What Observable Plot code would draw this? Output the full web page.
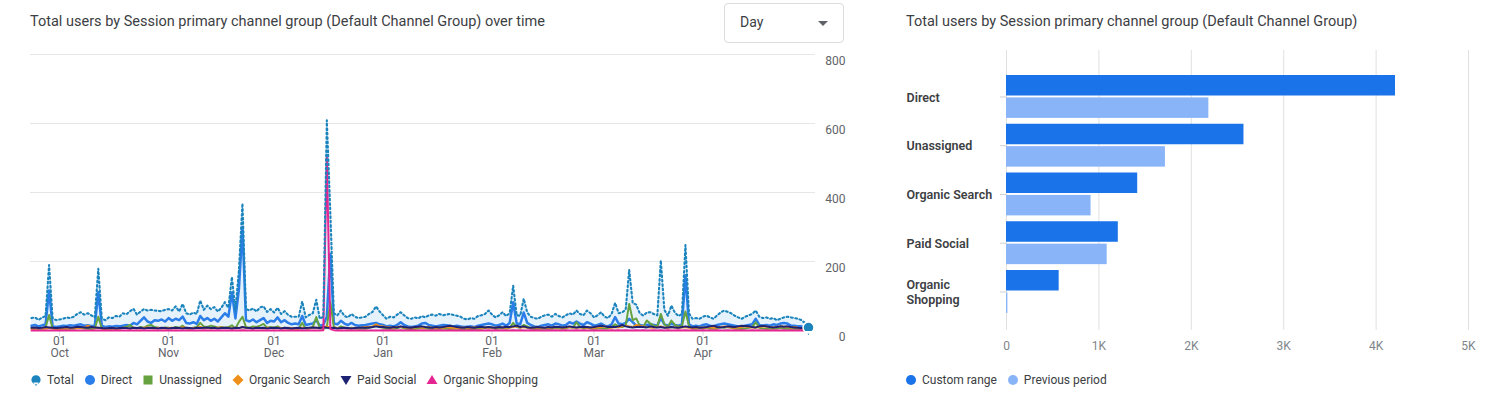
<!DOCTYPE html>
<html>
<head>
<meta charset="utf-8">
<script src="https://cdn.jsdelivr.net/npm/d3@7"></script>
<script src="https://cdn.jsdelivr.net/npm/@observablehq/plot@0.6"></script>
<style>
  html, body { margin: 0; padding: 0; background: #fff; }
  body { width: 1493px; height: 403px; position: relative; overflow: hidden; font-family: Roboto, "Noto Sans", sans-serif; color: #3c4043; }
  .title { position: absolute; top: 13px; font-size: 14.5px; line-height: 18px; color: #3c4043; z-index: 3; white-space: nowrap; }
  .dropdown { position: absolute; left: 724px; top: 3px; width: 120px; height: 40px; box-sizing: border-box; border: 1px solid #dadce0; border-radius: 4px; z-index: 3; background: #fff; }
  .dropdown .lbl { position: absolute; left: 15px; top: 10px; font-size: 14px; line-height: 17px; color: #3c4043; }
  .dropdown .arr { position: absolute; right: 15px; top: 17px; width: 0; height: 0; border-left: 5px solid transparent; border-right: 5px solid transparent; border-top: 5px solid #5f6368; }
  .chart { position: absolute; top: 0; z-index: 1; }
  .legend { position: absolute; top: 372px; display: flex; align-items: center; gap: 10px; font-size: 12px; line-height: 16px; color: #3c4043; z-index: 3; white-space: nowrap; }
  .legend .item { display: flex; align-items: center; gap: 5px; }
  .legend svg { display: block; }
</style>
</head>
<body>
<div class="title" style="left:30px">Total users by Session primary channel group (Default Channel Group) over time</div>
<div class="dropdown"><span class="lbl">Day</span><span class="arr"></span></div>
<div class="title" style="left:906px">Total users by Session primary channel group (Default Channel Group)</div>
<div id="lineChart" class="chart" style="left:0px"></div>
<div id="barChart" class="chart" style="left:880px"></div>
<div id="lineLegend" class="legend" style="left:30px"></div>
<div id="barLegend" class="legend" style="left:905px"></div>
<script>
// ---------- Time series data: one value per day, from 2023-09-23 to 2024-05-01 ----------
const firstDay = "2023-09-23";

const totalUsers = [
  36,38,31,37,42,190,36,30,
  32,34,38,36,40,48,53,46,50,44,38,179,34,30,38,36,42,40,50,47,56,63,46,55,62,58,60,58,57,56,60,
  62,58,70,55,77,50,46,52,48,87,60,72,62,68,55,66,82,66,155,58,175,368,62,58,64,55,67,70,54,62,
  52,66,48,56,45,40,40,40,84,38,45,50,89,34,40,609,340,50,44,58,42,38,48,40,36,38,40,48,54,70,55,
  44,34,40,38,46,53,44,36,34,38,35,42,38,44,46,43,48,44,46,48,45,43,40,34,32,36,34,42,44,48,58,
  46,38,44,53,42,50,130,44,43,92,52,40,36,34,40,44,46,40,48,42,38,44,50,46,58,48,44,58,50,
  38,44,53,40,36,48,80,50,53,60,176,80,75,50,43,52,53,48,44,203,60,43,72,52,42,48,248,50,34,36,34,
  40,43,38,34,44,52,58,54,50,43,38,34,40,44,48,58,40,36,38,34,36,30,34,38,40,38,36,34,30,22,
  3
];

const directUsers = [
  14,16,12,15,18,116,12,10,
  12,14,13,15,14,16,18,14,15,13,14,111,14,10,12,11,13,12,14,16,14,22,18,28,38,26,22,30,28,32,26,
  36,28,34,30,40,22,20,24,19,42,30,36,28,34,26,38,50,40,110,35,120,300,30,26,32,24,30,36,22,28,
  26,38,24,30,22,18,20,18,42,16,18,20,30,14,16,40,222,20,18,28,20,16,22,16,14,15,16,18,20,22,18,
  16,12,14,12,16,24,16,12,10,12,14,20,22,16,14,12,14,16,15,14,12,14,12,10,11,12,10,14,16,18,20,
  18,14,16,20,14,22,82,20,18,52,22,16,12,10,14,16,18,14,20,18,14,16,24,20,26,20,16,24,20,
  14,16,20,14,12,18,39,20,18,22,34,24,14,16,14,16,18,16,14,36,18,14,20,16,14,18,160,18,12,14,12,
  16,18,14,12,16,18,20,18,16,14,12,10,14,16,18,34,16,14,16,14,18,16,20,22,20,14,14,12,12,10,
  1
];

const unassignedUsers = [
  5,6,4,5,8,45,6,4,
  4,5,4,6,5,7,8,6,5,4,6,40,5,4,3,5,6,4,8,10,16,8,6,10,8,14,16,10,8,6,9,
  8,6,10,8,14,6,5,8,10,22,12,10,14,12,8,10,8,10,15,6,25,40,10,8,12,10,14,19,8,10,
  8,12,6,8,5,6,5,6,22,5,6,10,39,6,5,10,82,10,6,12,8,5,8,6,5,6,5,8,10,14,10,
  8,5,6,5,6,10,6,4,5,4,6,8,6,5,4,6,5,6,5,4,5,6,4,3,4,5,4,6,5,8,10,
  8,5,6,8,5,8,22,10,8,16,12,6,4,5,6,5,6,5,8,6,5,6,10,8,24,10,6,8,6,
  5,6,8,5,6,10,18,12,10,14,77,30,35,14,10,29,20,14,12,48,18,10,29,16,12,14,55,14,6,5,6,
  6,8,6,5,6,10,8,10,8,6,5,4,6,8,10,24,8,6,5,6,5,6,8,6,5,6,5,4,4,3,
  1
];

const organicSearchUsers = [
  6,5,7,6,5,8,6,5,
  6,5,7,6,8,7,9,8,14,10,7,8,6,5,6,7,5,6,8,7,6,8,7,6,8,9,7,6,8,7,6,
  7,8,6,7,9,8,6,7,8,10,7,8,6,7,8,9,7,8,6,8,7,10,8,7,6,8,7,6,8,7,
  6,8,7,6,8,7,6,5,8,7,6,9,8,7,10,12,9,8,7,6,8,7,6,8,7,9,10,10,12,18,12,
  12,10,9,8,10,11,9,8,7,9,10,8,9,10,8,7,9,8,10,9,8,7,9,8,7,8,9,10,8,9,8,
  9,8,10,9,8,9,10,12,9,10,8,7,8,9,8,7,9,8,10,9,8,9,10,9,8,9,10,8,9,
  8,9,10,12,9,8,10,9,12,14,12,10,16,14,12,10,9,8,10,12,9,8,10,9,8,9,10,8,7,8,9,
  8,9,10,8,9,10,12,10,9,8,9,10,12,10,9,8,10,12,11,10,9,10,12,11,10,9,10,8,7,6,
  1
];

const paidSocialUsers = [
  8,9,7,8,10,9,8,7,
  8,9,10,8,9,11,10,9,8,10,9,8,7,6,7,8,6,7,8,7,6,8,7,8,6,7,8,7,6,8,7,
  6,7,8,7,6,8,7,6,8,7,8,9,7,8,6,7,8,7,6,8,7,10,8,7,6,8,7,8,6,7,
  8,7,6,8,7,6,7,8,6,7,8,9,8,7,10,8,7,8,6,7,8,7,6,7,8,9,8,9,10,12,10,
  10,9,8,10,9,12,10,9,8,10,11,12,10,9,8,10,9,10,12,14,12,10,9,8,10,9,8,10,11,9,10,
  9,8,10,9,11,10,12,14,10,12,9,8,9,10,9,8,10,9,11,10,9,10,12,10,9,10,11,10,9,
  10,12,14,12,10,11,10,12,16,12,10,9,10,11,10,9,12,10,9,10,8,9,10,9,8,10,12,10,9,10,8,
  9,10,12,14,10,9,10,12,11,10,12,14,13,12,10,9,12,14,12,10,9,10,12,11,12,10,9,8,7,6,
  1
];

const organicShoppingUsers = [
  0,0,0,0,0,0,0,0,
  0,0,0,0,0,0,0,0,0,0,0,0,0,0,0,0,0,0,0,0,0,0,0,0,0,0,0,0,0,0,0,
  0,0,0,0,0,0,0,0,0,0,1,0,0,0,0,0,0,0,0,0,0,1,0,0,0,0,0,0,0,0,
  0,0,0,0,0,0,0,0,0,0,0,0,0,0,1,502,4,1,0,0,0,0,0,0,0,0,0,0,0,0,0,
  1,0,1,0,0,1,0,0,1,0,0,1,0,0,1,0,1,0,0,1,0,0,1,0,0,1,0,1,0,0,1,
  0,1,0,1,0,0,1,0,1,0,0,1,0,1,0,0,1,0,1,0,0,1,0,0,1,0,1,0,0,
  1,0,1,0,0,1,0,1,0,1,0,0,1,0,1,0,0,1,0,1,0,1,0,0,1,0,1,0,1,0,0,
  1,0,1,0,1,0,0,1,0,1,0,1,0,0,1,0,1,0,1,0,0,1,0,1,0,1,0,0,1,0,
  0
];

const lineYTicks = [0, 200, 400, 600, 800];
const monthTicks = ["2023-10-01", "2023-11-01", "2023-12-01", "2024-01-01", "2024-02-01", "2024-03-01", "2024-04-01"];

// ---------- Bar chart data ----------
const barCategories = ["Direct", "Unassigned", "Organic Search", "Paid Social", "Organic Shopping"];
const customRange = [4210, 2570, 1420, 1210, 570];
const previousPeriod = [2190, 1720, 915, 1090, 15];
const barXTicks = [0, 1000, 2000, 3000, 4000, 5000];
const barXTickLabels = ["0", "1K", "2K", "3K", "4K", "5K"];

// ---------- Styles ----------
const totalColor = "#1b84bd";
const series = [
  {name: "Direct", values: directUsers, color: "#2b7de9", width: 2.5, shape: "circle"},
  {name: "Unassigned", values: unassignedUsers, color: "#66a23f", width: 2, shape: "square"},
  {name: "Organic Search", values: organicSearchUsers, color: "#ee8f1c", width: 2, shape: "diamond"},
  {name: "Paid Social", values: paidSocialUsers, color: "#1d2372", width: 2, shape: "tdown"},
  {name: "Organic Shopping", values: organicShoppingUsers, color: "#e52592", width: 2, shape: "tup"}
];
const customColor = "#1a73e8";
const previousColor = "#8ab4f8";

// ---------- Line chart ----------
const start = new Date(firstDay + "T00:00:00Z");
const dates = totalUsers.map((_, i) => d3.utcDay.offset(start, i));
const totalRows = totalUsers.map((v, i) => ({date: dates[i], value: v}));
const tickDates = monthTicks.map(s => new Date(s + "T00:00:00Z"));

const pinSymbol = {
  draw(context, size) {
    const r = Math.sqrt(size / Math.PI);
    const cy = -r * 0.35;
    context.moveTo(r, cy);
    context.arc(0, cy, r, 0, 2 * Math.PI);
    context.moveTo(-r * 0.55, cy + r * 0.75);
    context.lineTo(0, cy + r * 1.65);
    context.lineTo(r * 0.55, cy + r * 0.75);
    context.closePath();
  }
};

const lineMarks = [
  Plot.ruleY(lineYTicks.slice(1), {stroke: "#e6e6e6", strokeWidth: 1, insetLeft: -1, insetRight: -7}),
  Plot.areaY(totalRows, {x: "date", y: "value", fill: "#e3f1fb", fillOpacity: 0.9}),
  Plot.ruleX(tickDates, {x: d => d, y1: 0, y2: -16, stroke: "#dadce0"}),
  ...series.map(s => Plot.lineY(s.values.map((v, i) => ({date: dates[i], value: v})),
      {x: "date", y: "value", stroke: s.color, strokeWidth: s.width, strokeLinejoin: "round"})),
  Plot.lineY(totalRows, {x: "date", y: "value", stroke: totalColor, strokeWidth: 2.1, strokeDasharray: "1.7,2.7"}),
  Plot.dot(totalRows.slice(-1), {x: "date", y: "value", symbol: pinSymbol, r: 5.5, fill: totalColor, stroke: "#fff", strokeWidth: 1.5}),
  Plot.axisX({ticks: tickDates, tickFormat: d3.utcFormat("%d\n%b"), tickSize: 0, tickPadding: 6, fontSize: 12, color: "#5f6368", label: null}),
  Plot.text(lineYTicks, {y: d => d, text: d => String(d), frameAnchor: "right", dx: 37, dy: 7, textAnchor: "end", fontSize: 12, fill: "#5f6368"})
];

const linePlot = Plot.plot({
  width: 860, height: 370,
  marginLeft: 31, marginRight: 52, marginTop: 54, marginBottom: 40,
  style: {background: "transparent", fontFamily: "Roboto, sans-serif", overflow: "visible"},
  x: {type: "utc", domain: [dates[0], dates[dates.length - 1]], axis: null},
  y: {domain: [0, 800], axis: null},
  marks: lineMarks
});
document.getElementById("lineChart").appendChild(linePlot);

// ---------- Bar chart ----------
const customRows = barCategories.map((c, i) => ({category: c, value: customRange[i]}));
const previousRows = barCategories.map((c, i) => ({category: c, value: previousPeriod[i]}));

const barPlot = Plot.plot({
  width: 613, height: 370,
  marginLeft: 126, marginRight: 25, marginTop: 50, marginBottom: 40,
  style: {background: "transparent", fontFamily: "Roboto, sans-serif", overflow: "visible"},
  x: {domain: [0, 5000], axis: null},
  y: {type: "band", domain: barCategories, range: [75, 312.9], paddingInner: 0.12, paddingOuter: 0, align: 0, round: false, axis: null},
  marks: [
    Plot.gridX(barXTicks, {stroke: "#e0e0e0", strokeOpacity: 1}),
    Plot.barX(customRows, {x: "value", y: "category", fill: customColor, insetBottom: 22.4}),
    Plot.barX(previousRows, {x: "value", y: "category", fill: previousColor, insetTop: 22.4}),
    Plot.axisY({tickSize: 6, tickFormat: () => "", stroke: "#d0d0d0", label: null}),
    Plot.text(barCategories, {y: d => d, text: d => d === "Organic Shopping" ? "Organic\nShopping" : d,
      frameAnchor: "left", dx: -100, textAnchor: "start", fontSize: 12.5, fontWeight: 600, fill: "#3c4043", lineHeight: 1.15}),
    Plot.axisX({ticks: barXTicks, tickFormat: (d) => barXTickLabels[barXTicks.indexOf(d)], tickSize: 0, tickPadding: 11, fontSize: 12, color: "#80868b", label: null})
  ]
});
document.getElementById("barChart").appendChild(barPlot);

// ---------- Legends ----------
function markerSvg(shape, color) {
  let inner = "";
  if (shape === "pin") inner = `<path d="M6 1.2a4.6 4.6 0 1 1 0 9.2a4.6 4.6 0 1 1 0 -9.2Z M3.3 8.6 L6 12 L8.7 8.6Z" fill="${color}"/>`;
  else if (shape === "circle") inner = `<circle cx="6" cy="6" r="5" fill="${color}"/>`;
  else if (shape === "square") inner = `<rect x="1.5" y="1.5" width="9" height="9" fill="${color}"/>`;
  else if (shape === "diamond") inner = `<path d="M6 0.5 L11.5 6 L6 11.5 L0.5 6Z" fill="${color}"/>`;
  else if (shape === "tdown") inner = `<path d="M0.5 2 L11.5 2 L6 11Z" fill="${color}"/>`;
  else if (shape === "tup") inner = `<path d="M6 1 L11.5 10 L0.5 10Z" fill="${color}"/>`;
  return `<svg width="12" height="12" viewBox="0 0 12 12">${inner}</svg>`;
}
const lineLegendItems = [{name: "Total", color: totalColor, shape: "pin"}, ...series];
document.getElementById("lineLegend").innerHTML = lineLegendItems
  .map(s => `<span class="item">${markerSvg(s.shape, s.color)}<span>${s.name}</span></span>`).join("");
document.getElementById("barLegend").innerHTML = [["Custom range", customColor], ["Previous period", previousColor]]
  .map(([n, c]) => `<span class="item">${markerSvg("circle", c)}<span>${n}</span></span>`).join("");
</script>
</body>
</html>
